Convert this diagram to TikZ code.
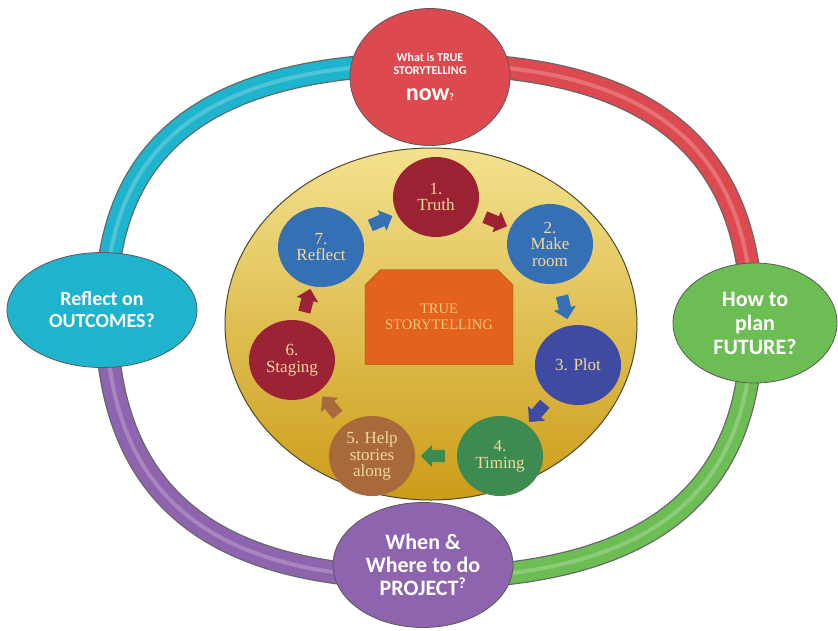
\documentclass[tikz,border=0pt]{standalone}
\usepackage{fontspec}
\setmainfont{Liberation Serif}
\newfontfamily\calibri{Carlito}
\usetikzlibrary{positioning,shapes.geometric,shapes.arrows,shapes.misc,backgrounds}

\definecolor{nowred}{HTML}{DC4A50}
\definecolor{outcomecyan}{HTML}{1FB4CD}
\definecolor{futuregreen}{HTML}{6DBD55}
\definecolor{projectpurple}{HTML}{8F64AE}
\definecolor{truthred}{HTML}{9A2233}
\definecolor{makeblue}{HTML}{3570B4}
\definecolor{plotblue}{HTML}{3F4AA2}
\definecolor{timinggreen}{HTML}{3E8B52}
\definecolor{helpbrown}{HTML}{A8693B}
\definecolor{stagingred}{HTML}{9C2236}
\definecolor{reflectblue}{HTML}{3570B4}
\definecolor{goldlight}{HTML}{F3E28E}
\definecolor{goldmid}{HTML}{E9CC5C}
\definecolor{golddark}{HTML}{CC9C18}
\definecolor{coreorange}{HTML}{E3621C}
\definecolor{cream}{HTML}{F2D89A}
\definecolor{corecream}{HTML}{F5C77E}

\begin{document}
\begin{tikzpicture}[x=1pt, y=-1pt,
    question/.style={ellipse, draw=black!65, line width=0.8pt, inner sep=0pt, align=center, text=white},
    ring/.style={line width=21pt, preaction={draw=black!60, line width=23.5pt}, postaction={draw=white, opacity=0.22, line width=4pt}},
    stepdisc/.style={ellipse, inner sep=0pt, minimum width=86pt, minimum height=80pt, align=center, text=cream, font=\fontsize{17}{16.5}\selectfont},
    steparrow/.style={single arrow, inner sep=6pt, minimum height=24pt, single arrow head extend=5pt, single arrow head indent=0pt, sloped, allow upside down}]
        \useasboundingbox (0,0) rectangle (838,630);

        % Questions
        \node[question, fill=nowred, minimum width=160pt, minimum height=137pt, font=\calibri\bfseries\fontsize{12}{13}\selectfont] (now) at (430,77)
            {What is TRUE\\STORYTELLING\\[13pt]{\fontsize{24}{24}\selectfont now}{\fontsize{10}{10}\selectfont ?}};
        \node[question, fill=outcomecyan, minimum width=190pt, minimum height=115pt, font=\calibri\bfseries\fontsize{20}{22}\selectfont] (outcomes) at (102,310) {Reflect on\\OUTCOMES?};
        \node[question, fill=futuregreen, minimum width=164pt, minimum height=120pt, font=\calibri\bfseries\fontsize{22}{24}\selectfont] (future) at (755,323) {How to\\plan\\FUTURE?};
        \node[question, fill=projectpurple, minimum width=180pt, minimum height=125pt, font=\calibri\bfseries\fontsize{22}{23}\selectfont] (project) at (423,565) {When \&\\Where to do\\PROJECT\textsuperscript{?}};

        % Ring
        \coordinate (ringT) at ([yshift=13pt]now.center);
        \coordinate (ringR) at ([xshift=-3pt]future.center);
        \coordinate (ringB) at ([yshift=-13pt]project.center);
        \coordinate (ringL) at ([xshift=4pt]outcomes.center);
        \begin{scope}[on background layer]
            \draw[ring, draw=outcomecyan] (ringL) .. controls (106,143) and (210,64) .. (ringT);
            \draw[ring, draw=nowred] (ringT) .. controls (649,64) and (752,147) .. (ringR);
            \draw[ring, draw=futuregreen] (ringR) .. controls (752,496) and (647,578) .. (ringB);
            \draw[ring, draw=projectpurple] (ringB) .. controls (207,578) and (106,492) .. (ringL);
        \end{scope}

        % Disc and centre
        \node[ellipse, draw=black!60!olive, line width=1pt, inner sep=0pt, minimum width=412pt, minimum height=352pt,
            top color=goldlight, middle color=goldmid, bottom color=golddark] (disc) at (431,324) {};
        \node[chamfered rectangle, chamfered rectangle corners={north west,north east}, chamfered rectangle xsep=20pt,
            draw=coreorange!70!black, fill=coreorange, minimum width=148pt, minimum height=95pt, inner sep=0pt,
            align=center, text=corecream, font=\fontsize{14.5}{15.5}\selectfont] (core) at (439,317) {TRUE\\STORYTELLING};

        % Steps
        \node[stepdisc, fill=truthred] (s1) at (436,197) {1.\\Truth};
        \node[stepdisc, fill=makeblue] (s2) at (550,244) {2.\\Make\\room};
        \node[stepdisc, fill=plotblue] (s3) at (578,365) {3. Plot};
        \node[stepdisc, fill=timinggreen] (s4) at (500,456) {4.\\Timing};
        \node[stepdisc, fill=helpbrown] (s5) at (372,456) {5. Help\\stories\\along};
        \node[stepdisc, fill=stagingred] (s6) at (292,360) {6.\\Staging};
        \node[stepdisc, fill=reflectblue] (s7) at (321,247) {7.\\Reflect};

        % Arrows
        \path (s1) -- node[steparrow, fill=truthred] (a12) {} (s2);
        \path (s2) -- node[steparrow, fill=makeblue] (a23) {} (s3);
        \path (s3) -- node[steparrow, fill=plotblue] (a34) {} (s4);
        \path (s4) -- node[steparrow, fill=timinggreen] (a45) {} (s5);
        \path (s5) -- node[steparrow, fill=helpbrown] (a56) {} (s6);
        \path (s6) -- node[steparrow, fill=stagingred] (a67) {} (s7);
        \path (s7) -- node[steparrow, fill=reflectblue] (a71) {} (s1);
    \end{tikzpicture}
\end{document}
